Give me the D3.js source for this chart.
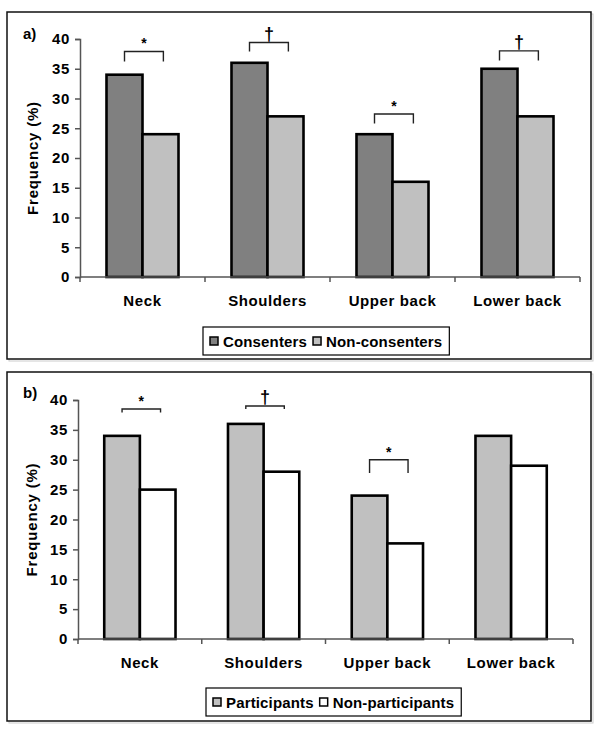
<!DOCTYPE html>
<html><head><meta charset="utf-8">
<script src="https://cdn.jsdelivr.net/npm/d3@7/dist/d3.min.js"></script>
<style>
body{margin:0;background:#fff;}
svg{display:block;font-family:"Liberation Sans",Arial,sans-serif;}
</style></head>
<body>
<svg id="chart" width="600" height="733"></svg>
<script>
const categories = ["Neck", "Shoulders", "Upper back", "Lower back"];
const consenters = [34, 36, 24, 35];
const nonConsenters = [24, 27, 16, 27];
const participants = [34, 36, 24, 34];
const nonParticipants = [25, 28, 16, 29];
const yTicks = [0, 5, 10, 15, 20, 25, 30, 35, 40];
const legendA = ["Consenters", "Non-consenters"];
const legendB = ["Participants", "Non-participants"];
// significance brackets: category, symbol, top level and leg end (in % units)
const sigCats_A = ["Neck", "Shoulders", "Upper back", "Lower back"];
const sigSyms_A = ["*", "\u2020", "*", "\u2020"];
const sigTop_A = [37.9, 39.4, 27.4, 38.0];
const sigBot_A = [36.2, 37.9, 25.8, 36.4];
const sigCats_B = ["Neck", "Shoulders", "Upper back"];
const sigSyms_B = ["*", "\u2020", "*"];
const sigTop_B = [38.5, 39.0, 30.0];
const sigBot_B = [37.9, 38.5, 27.8];

const svg = d3.select("#chart");

function panel(cfg) {
  const g = svg.append("g");
  g.append("rect").attr("x", cfg.frame[0] + 2).attr("y", cfg.frame[1] + 2)
    .attr("width", cfg.frame[2] - cfg.frame[0]).attr("height", cfg.frame[3] - cfg.frame[1])
    .attr("fill", "none").attr("stroke", "#ccc").attr("stroke-width", 1);
  g.append("rect").attr("x", cfg.frame[0]).attr("y", cfg.frame[1])
    .attr("width", cfg.frame[2] - cfg.frame[0]).attr("height", cfg.frame[3] - cfg.frame[1])
    .attr("fill", "#fff").attr("stroke", "#111").attr("stroke-width", 1.5);

  const x = d3.scaleBand().domain(categories).range(cfg.xr).paddingInner(0.424).paddingOuter(0.212);
  const xs = d3.scaleBand().domain([0, 1]).range([0, x.bandwidth()]);
  const y = d3.scaleLinear().domain([0, 40]).range(cfg.yr);

  cfg.series.forEach((vals, si) => {
    g.append("g").selectAll("rect").data(categories).join("rect")
      .attr("x", c => x(c) + xs(si))
      .attr("y", (c, i) => y(vals[i]))
      .attr("width", xs.bandwidth())
      .attr("height", (c, i) => y(0) - y(vals[i]))
      .attr("fill", cfg.colors[si])
      .attr("stroke", "#000").attr("stroke-width", 2.6);
  });

  const ya = g.append("g").attr("transform", `translate(${cfg.xr[0]},0)`)
    .call(d3.axisLeft(y).tickValues(yTicks).tickSize(5).tickPadding(5));
  ya.select(".domain").attr("stroke", "#555").attr("stroke-width", 1.5);
  ya.selectAll(".tick line").attr("stroke", "#555").attr("stroke-width", 1.5);
  ya.selectAll(".tick text").attr("font-size", 15).attr("font-weight", "bold")
    .attr("fill", "#000").style("letter-spacing", "0.6px")
    .attr("font-family", "Liberation Sans, Arial, sans-serif");

  const y0 = y(0);
  const step = x.step();
  const bounds = categories.map(c => x(c) - step * x.paddingInner() / 2).concat([cfg.xr[1]]);
  g.append("line").attr("x1", cfg.xr[0]).attr("x2", cfg.xr[1]).attr("y1", y0).attr("y2", y0)
    .attr("stroke", "#555").attr("stroke-width", 1.5);
  g.append("g").selectAll("line").data(bounds).join("line")
    .attr("x1", d => d).attr("x2", d => d).attr("y1", y0).attr("y2", y0 + 5)
    .attr("stroke", "#555").attr("stroke-width", 1.5);
  g.append("g").selectAll("text").data(categories).join("text")
    .attr("x", c => x(c) + x.bandwidth() / 2).attr("y", y0 + 29)
    .attr("text-anchor", "middle").attr("font-size", 15).attr("font-weight", "bold")
    .style("letter-spacing", "0.6px").text(c => c);

  const ym = (cfg.yr[0] + cfg.yr[1]) / 2;
  g.append("text").attr("transform", `translate(${cfg.titleX},${ym}) rotate(-90)`)
    .attr("text-anchor", "middle").attr("font-size", 15).attr("font-weight", "bold")
    .style("letter-spacing", "0.8px").text("Frequency (%)");

  g.append("text").attr("x", cfg.frame[0] + 16).attr("y", cfg.letterY)
    .attr("font-size", 15).attr("font-weight", "bold").text(cfg.letter);

  cfg.sig.cats.forEach((c, i) => {
    const xa = x(c) + x.bandwidth() * 0.25, xb = x(c) + x.bandwidth() * 0.79;
    const yt = y(cfg.sig.top[i]), yb = y(cfg.sig.bot[i]);
    g.append("path").attr("d", `M${xa},${yb}V${yt}H${xb}V${yb}`)
      .attr("fill", "none").attr("stroke", "#222").attr("stroke-width", 1.4);
    const sym = cfg.sig.syms[i];
    g.append("text").attr("x", (xa + xb) / 2).attr("y", sym === "*" ? yt - 3 : yt - 3)
      .attr("text-anchor", "middle").attr("font-size", sym === "*" ? 14 : 18)
      .attr("font-weight", "bold").attr("fill", "#000")
      .text(sym);
  });

  const lg = g.append("g");
  let lx = cfg.legendX + 7;
  cfg.legend.forEach((name, i) => {
    lg.append("rect").attr("x", lx).attr("y", cfg.legendY + 10).attr("width", 8).attr("height", 8)
      .attr("fill", cfg.colors[i]).attr("stroke", "#000").attr("stroke-width", 1.5);
    const t = lg.append("text").attr("x", lx + 13).attr("y", cfg.legendY + 19.5)
      .attr("font-size", 15).attr("font-weight", "bold").style("letter-spacing", "0.15px").text(name);
    lx = lx + 13 + t.node().getComputedTextLength() + 6;
  });
  lg.insert("rect", ":first-child").attr("x", cfg.legendX).attr("y", cfg.legendY)
    .attr("width", lx - cfg.legendX + 1).attr("height", 28)
    .attr("fill", "#fff").attr("stroke", "#000").attr("stroke-width", 1.2);
}

panel({
  frame: [7, 12, 591, 359], xr: [80, 580], yr: [277, 39],
  series: [consenters, nonConsenters], colors: ["#808080", "#c0c0c0"],
  legend: legendA, legendX: 203, legendY: 327, titleX: 38, letter: "a)", letterY: 39,
  sig: { cats: sigCats_A, syms: sigSyms_A, top: sigTop_A, bot: sigBot_A }
});
panel({
  frame: [7, 372, 591, 721], xr: [78, 573], yr: [639, 400],
  series: [participants, nonParticipants], colors: ["#c0c0c0", "#ffffff"],
  legend: legendB, legendX: 206, legendY: 688, titleX: 37, letter: "b)", letterY: 398,
  sig: { cats: sigCats_B, syms: sigSyms_B, top: sigTop_B, bot: sigBot_B }
});
</script>
</body></html>
